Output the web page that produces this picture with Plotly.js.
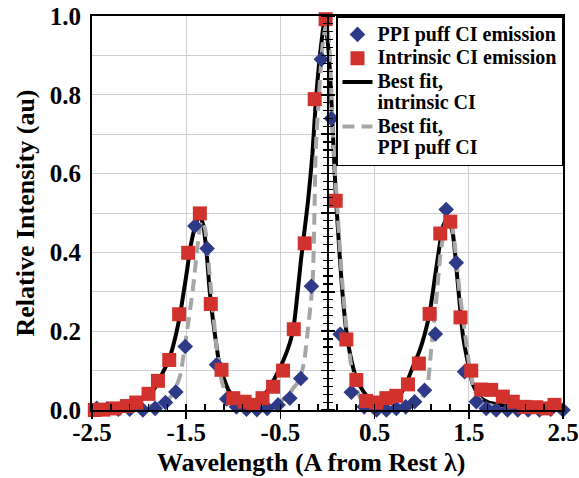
<!DOCTYPE html>
<html>
<head>
<meta charset="utf-8">
<script src="https://cdn.plot.ly/plotly-3.0.1.min.js"></script>
<style>html,body{margin:0;padding:0;background:#fff;}#chart{width:579px;height:478px;}</style>
</head>
<body>
<div id="chart"></div>
<script>
// PPI puff CI emission (blue diamonds)
const blueX = [-2.45,-2.34,-2.22,-2.10,-1.96,-1.83,-1.72,-1.61,-1.51,-1.408,-1.278,-1.178,-1.07,-0.966,-0.86,-0.75,-0.64,-0.525,-0.40,-0.284,-0.171,-0.065,0.041,0.135,0.253,0.39,0.52,0.625,0.73,0.83,0.925,1.03,1.145,1.26,1.367,1.455,1.58,1.685,1.79,1.91,2.02,2.13,2.25,2.37,2.5];
const blueY = [0.004,0.003,0.002,0.002,0.000,0.004,0.019,0.046,0.161,0.467,0.410,0.115,0.028,0.008,0.002,0.001,0.004,0.013,0.030,0.080,0.314,0.890,0.740,0.192,0.045,0.008,0.000,0.000,0.004,0.008,0.021,0.050,0.193,0.509,0.374,0.097,0.021,0.004,0.000,0.000,0.000,0.000,0.000,0.002,0.000];

// Intrinsic CI emission (red squares)
const redX = [-2.47,-2.38,-2.26,-2.13,-2.03,-1.90,-1.80,-1.68,-1.575,-1.479,-1.355,-1.239,-1.125,-1.00,-0.88,-0.79,-0.69,-0.578,-0.472,-0.358,-0.242,-0.136,-0.02,0.087,0.20,0.306,0.41,0.518,0.625,0.73,0.854,0.97,1.084,1.197,1.303,1.412,1.526,1.632,1.738,1.861,1.967,2.09,2.215,2.32,2.41];
const redY = [0.000,0.001,0.004,0.010,0.019,0.041,0.074,0.127,0.243,0.399,0.499,0.269,0.102,0.030,0.021,0.013,0.030,0.059,0.100,0.205,0.423,0.789,0.992,0.531,0.179,0.076,0.023,0.019,0.030,0.036,0.065,0.118,0.244,0.448,0.478,0.235,0.100,0.052,0.051,0.034,0.021,0.008,0.007,0.004,0.013];

// Best fit, intrinsic CI (black solid)
const fitIntrX = [-2.5,-2.3,-2.1,-1.99,-1.85,-1.78,-1.68,-1.62,-1.567,-1.50,-1.45,-1.40,-1.36,-1.32,-1.28,-1.25,-1.20,-1.15,-1.10,-1.05,-1.0,-0.95,-0.85,-0.75,-0.65,-0.55,-0.47,-0.40,-0.36,-0.277,-0.207,-0.16,-0.125,-0.08,-0.03,0.0,0.023,0.058,0.087,0.13,0.158,0.20,0.25,0.30,0.36,0.42,0.50,0.60,0.70,0.766,0.854,0.907,0.977,1.04,1.084,1.155,1.225,1.278,1.33,1.384,1.437,1.508,1.543,1.614,1.70,1.85,2.0,2.2,2.5];
const fitIntrY = [0.003,0.008,0.018,0.025,0.050,0.080,0.130,0.180,0.240,0.340,0.420,0.470,0.495,0.470,0.390,0.300,0.200,0.120,0.080,0.050,0.035,0.025,0.020,0.025,0.045,0.085,0.125,0.170,0.210,0.390,0.530,0.650,0.780,0.900,0.990,0.940,0.870,0.700,0.550,0.390,0.300,0.200,0.130,0.085,0.055,0.035,0.025,0.025,0.030,0.037,0.078,0.110,0.150,0.200,0.245,0.360,0.465,0.490,0.448,0.320,0.190,0.100,0.065,0.034,0.020,0.012,0.008,0.005,0.002];

// Best fit, PPI puff CI (gray dashed)
const fitPpiX = [-2.5,-2.0,-1.8,-1.7,-1.64,-1.567,-1.50,-1.43,-1.373,-1.34,-1.30,-1.27,-1.23,-1.178,-1.125,-1.07,-1.0,-0.9,-0.7,-0.55,-0.436,-0.348,-0.30,-0.25,-0.21,-0.17,-0.155,-0.14,-0.125,-0.09,-0.05,-0.01,0.02,0.058,0.11,0.158,0.20,0.253,0.30,0.35,0.45,0.60,0.80,0.95,1.05,1.10,1.155,1.197,1.26,1.30,1.35,1.40,1.455,1.508,1.56,1.65,1.80,2.0,2.5];
const fitPpiY = [0.000,0.005,0.015,0.025,0.042,0.085,0.186,0.305,0.430,0.480,0.460,0.390,0.290,0.160,0.076,0.035,0.015,0.005,0.005,0.012,0.034,0.060,0.075,0.120,0.200,0.290,0.340,0.480,0.660,0.800,0.930,0.980,0.920,0.700,0.490,0.320,0.210,0.110,0.060,0.030,0.010,0.004,0.008,0.020,0.050,0.152,0.280,0.390,0.480,0.490,0.420,0.305,0.203,0.110,0.050,0.020,0.008,0.004,0.000];

const seriesNames = ['PPI puff CI emission', 'Intrinsic CI emission', 'Best fit,<br>intrinsic CI', 'Best fit,<br>PPI puff CI'];
const xTickVals = [-2.5,-1.5,-0.5,0.5,1.5,2.5];
const xTickText = ['-2.5','-1.5','-0.5','0.5','1.5','2.5'];
const yTickVals = [0,0.2,0.4,0.6,0.8,1.0];
const yTickText = ['0.0','0.2','0.4','0.6','0.8','1.0'];
const xTitle = 'Wavelength (A from Rest λ)';
const yTitle = 'Relative Intensity (au)';

const serif = '"Liberation Serif", "DejaVu Serif", serif';
const big = s => '<span style="font-size:20px">' + s.split('<br>').join('</span><br><span style="font-size:20px">') + '</span>';

const traces = [
  {x: fitIntrX, y: fitIntrY, type: 'scatter', mode: 'lines', name: big(seriesNames[2]),
   line: {color: '#000000', width: 4, shape: 'spline', smoothing: 0.6}, legendrank: 3, cliponaxis: false},
  {x: fitPpiX, y: fitPpiY, type: 'scatter', mode: 'lines', name: big(seriesNames[3]),
   line: {color: '#A6A6A6', width: 4, dash: '12px,7px', shape: 'spline', smoothing: 0.6}, legendrank: 4, cliponaxis: false},
  {x: blueX, y: blueY, type: 'scatter', mode: 'markers', name: big(seriesNames[0]),
   marker: {symbol: 'diamond', size: 12, color: '#2E3A87'}, legendrank: 1, cliponaxis: false},
  {x: redX, y: redY, type: 'scatter', mode: 'markers', name: big(seriesNames[1]),
   marker: {symbol: 'square', size: 14, color: '#D2322D'}, legendrank: 2, cliponaxis: false},
  // carriers for the centre axis at x = 0 (no visible marks)
  {x: [null], y: [null], yaxis: 'y2', type: 'scatter', mode: 'markers', showlegend: false, hoverinfo: 'skip'},
  {x: [null], y: [null], yaxis: 'y3', type: 'scatter', mode: 'markers', showlegend: false, hoverinfo: 'skip'}
];

const layout = {
  width: 579, height: 478,
  margin: {l: 92, r: 16, t: 16, b: 68},
  paper_bgcolor: '#ffffff', plot_bgcolor: '#ffffff',
  font: {family: serif, color: '#000', weight: 'bold'},
  showlegend: true,
  legend: {x: 1, xanchor: 'right', y: 1, yanchor: 'top', bgcolor: '#ffffff', valign: 'top',
           bordercolor: '#000000', borderwidth: 1.5, font: {family: serif, size: 16, color: '#000', weight: 'bold'},
           itemwidth: 30, tracegroupgap: 0, traceorder: 'normal'},
  annotations: [
    {text: xTitle, xref: 'paper', yref: 'paper', x: 0.4645, y: -0.1345, xanchor: 'center', yanchor: 'middle',
     showarrow: false, font: {family: serif, size: 26, color: '#000', weight: 'bold'}}
  ],
  xaxis: {range: [-2.5, 2.5], tickmode: 'array', tickvals: xTickVals, ticktext: xTickText,
          showgrid: true, gridcolor: '#CFCFCF', gridwidth: 1, zeroline: false,
          showline: true, linecolor: '#000', linewidth: 2, mirror: true,
          ticks: 'outside', ticklen: 7, tickwidth: 1.5, tickcolor: '#000', ticklabelstandoff: -8,
          minor: {tickmode: 'linear', tick0: -2.5, dtick: 0.2, ticks: 'inside', ticklen: 6, tickwidth: 1.5, tickcolor: '#000', showgrid: false},
          tickfont: {family: serif, size: 25, color: '#000', weight: 'bold'},
          automargin: false},
  yaxis: {range: [0, 1], tickmode: 'array', tickvals: yTickVals, ticktext: yTickText,
          showgrid: true, gridcolor: '#CFCFCF', gridwidth: 1, zeroline: false,
          minor: {tickmode: 'linear', tick0: 0, dtick: 0.1, showgrid: true, gridcolor: '#CFCFCF', gridwidth: 1, ticks: ''},
          showline: true, linecolor: '#000', linewidth: 2, mirror: true,
          ticks: 'outside', ticklen: 6, tickcolor: 'rgba(0,0,0,0)', ticklabelstandoff: -2,
          tickfont: {family: serif, size: 25, color: '#000', weight: 'bold'},
          title: {text: yTitle, font: {family: serif, size: 26, color: '#000', weight: 'bold'}, standoff: 8},
          automargin: false},
  yaxis2: {range: [0, 1], overlaying: 'y', anchor: 'free', position: 0.5, side: 'left',
           showline: true, linecolor: '#000', linewidth: 2, showgrid: false, zeroline: false,
           showticklabels: false, tickmode: 'linear', tick0: 0, dtick: 0.1,
           ticks: 'outside', ticklen: 6, tickwidth: 1.5, tickcolor: '#000',
           minor: {tickmode: 'linear', tick0: 0, dtick: 0.02, ticks: 'outside', ticklen: 4, tickwidth: 1.2, tickcolor: '#000', showgrid: false}},
  yaxis3: {range: [0, 1], overlaying: 'y', anchor: 'free', position: 0.5, side: 'right',
           showline: false, showgrid: false, zeroline: false,
           showticklabels: false, tickmode: 'linear', tick0: 0, dtick: 0.1,
           ticks: 'outside', ticklen: 6, tickwidth: 1.5, tickcolor: '#000',
           minor: {tickmode: 'linear', tick0: 0, dtick: 0.02, ticks: 'outside', ticklen: 4, tickwidth: 1.2, tickcolor: '#000', showgrid: false}}
};

Plotly.newPlot('chart', traces, layout, {staticPlot: true, displayModeBar: false});
</script>
</body>
</html>
